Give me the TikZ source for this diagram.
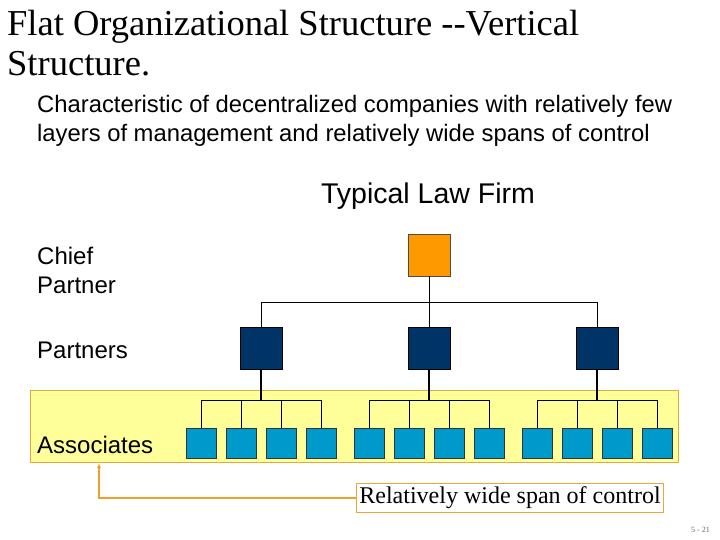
\documentclass[tikz,border=0pt]{standalone}
\usepackage{fontspec}
\usetikzlibrary{arrows.meta}
\setmainfont{Liberation Serif}
\newfontfamily\arial{Liberation Sans}
\definecolor{pnavy}{RGB}{0,51,102}
\definecolor{ablue}{RGB}{0,153,204}
\definecolor{band}{RGB}{255,255,153}
\definecolor{bandedge}{RGB}{230,170,60}
\definecolor{arrowor}{RGB}{240,160,40}
\definecolor{chieforange}{RGB}{255,153,0}
\definecolor{pagecol}{RGB}{80,110,130}
\begin{document}
\begin{tikzpicture}[x=1pt,y=-1pt,
  chief/.style={draw=black!70,fill=chieforange,minimum size=42pt,inner sep=0pt},
  partner/.style={draw=black,fill=pnavy,minimum size=42pt,inner sep=0pt},
  assoc/.style={draw=black!80,fill=ablue,minimum size=30pt,inner sep=0pt},
  lbl/.style={font=\arial\fontsize{24}{29}\selectfont,anchor=west,align=left,inner sep=0pt},
  edge/.style={draw=black,line width=1pt}]
\useasboundingbox (0,0) rectangle (720,540);
\node[anchor=north west,align=left,inner sep=0pt,font=\fontsize{36.5}{40}\selectfont] (title) at (7,10) {Flat Organizational Structure {-}{-}Vertical\\Structure.};
\node[anchor=north west,align=left,inner sep=0pt,font=\arial\fontsize{23.8}{29}\selectfont] (sub) at (37,95) {Characteristic of decentralized companies with relatively few\\layers of management and relatively wide spans of control};
\node[font=\arial\fontsize{28.5}{32}\selectfont] (tlf) at (428,196) {Typical Law Firm};
\fill[fill=band,draw=bandedge] (30,390) rectangle (678,462);
\node[chief] (c) at (429,255) {};
\foreach \p/\x in {1/261,2/429,3/597}{
  \node[partner] (p\p) at (\x,348.5) {};
  \draw[edge] (p\p.north) -- (\x,302);
  \draw[black,line width=2.2pt] (p\p.south) -- (\x,400);
  \foreach \k/\dx in {1/-60,2/-20,3/20,4/60}{
    \node[assoc] (a\p\k) at (\x+\dx,443.5) {};
    \draw[edge] (a\p\k.north) -- (\x+\dx,400);
  }
  \draw[edge] (\x-60,400) -- (\x+60,400);
}
\draw[edge] (c.south) -- (429,302);
\draw[edge] (261,302) -- (597,302);
\node[lbl] (l1) at (37,270) {Chief\\Partner};
\node[lbl] (l2) at (37,350) {Partners};
\node[lbl] (l3) at (37,445) {Associates};
\node[draw=bandedge,fill=white,font=\fontsize{24}{28}\selectfont,inner sep=3pt,line width=1pt] (box) at (510,498) {Relatively wide span of control};
\coordinate (tip) at (99,463);
\draw[arrowor,line width=1.5pt,-{Latex[length=5pt,width=4pt]}] (box.west) -| (tip);
\node[anchor=east,font=\fontsize{8}{9}\selectfont,text=pagecol,inner sep=0pt] (pg) at (710,530) {5 - 21};
\end{tikzpicture}
\end{document}
